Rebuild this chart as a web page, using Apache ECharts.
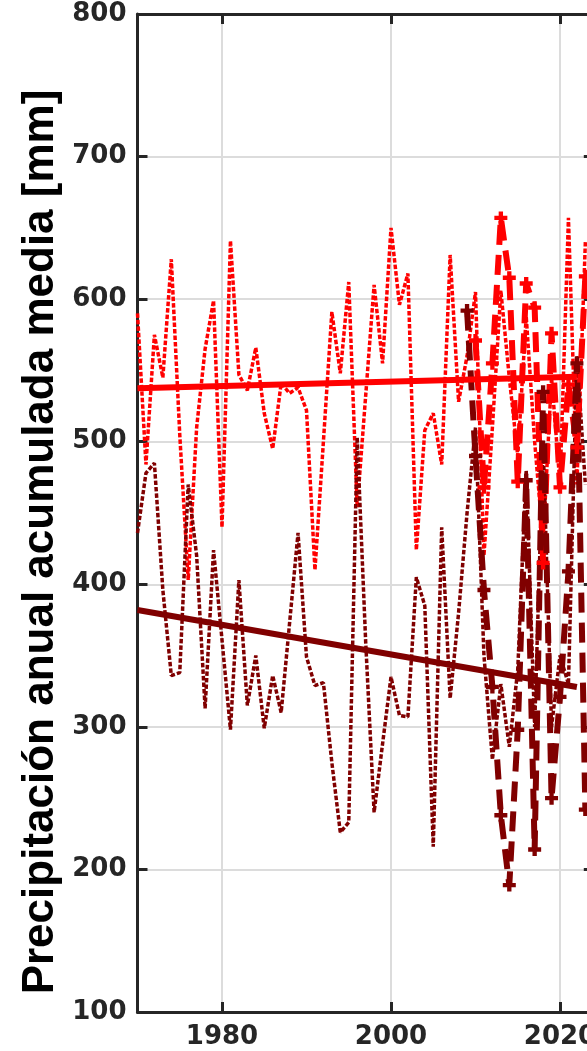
<!DOCTYPE html>
<html><head><meta charset="utf-8">
<script src="https://cdn.jsdelivr.net/npm/echarts@6/dist/echarts.min.js"></script>
<style>
html,body{margin:0;padding:0;overflow:hidden;background:#fff;width:587px;height:1051px}
#c{width:620px;height:1051px}
</style></head>
<body><div id="c"></div>
<script>
// ---- data ----
const yearsObs = [1970,1971,1972,1973,1974,1975,1976,1977,1978,1979,
  1980,1981,1982,1983,1984,1985,1986,1987,1988,1989,
  1990,1991,1992,1993,1994,1995,1996,1997,1998,1999,
  2000,2001,2002,2003,2004,2005,2006,2007,2008,2009,
  2010,2011,2012,2013,2014,2015,2016,2017,2018,2019,
  2020,2021,2022,2023];
const redObs = [590,484,575,545,628,505,403,510,565,599,
  440,641,547,536,566,520,495,541,534,538,
  522,410,500,591,548,612,454,532,610,555,
  650,596,618,424,508,520,484,631,528,560,
  605,420,510,606,545,490,588,500,430,545,
  470,657,470,640];
const maroonObs = [436,478,485,396,336,338,470,420,313,424,
  361,298,403,315,350,299,336,310,373,436,
  349,329,331,275,226,233,503,360,240,288,
  335,308,307,405,385,216,440,320,380,450,
  510,350,277,330,286,340,480,300,500,300,
  350,330,560,470];
const yearsModel = [2009,2010,2011,2012,2013,2014,2015,2016,2017,2018,2019,2020,2021,2022,2023];
const redModel = [null,571,468,555,657,615,472,611,594,415,576,468,540,496,616];
const maroonModel = [592,490,396,328,238,189,298,473,214,535,250,321,409,555,242];
const trendYears = [1970,2022];
const redTrend = [537.5,545.5];
const maroonTrend = [382,328];
const xTickYears = [1980,2000,2020];
const yTitle = 'Precipitación anual acumulada media [mm]';

// ---- chart ----
const pairs = (xs, ys) => xs.map((x, i) => [x, ys[i]]);
const RED = '#ff0000', MAROON = '#800000', AX = '#262626';
const plus = 'path://M4,0H8V4H12V8H8V12H4V8H0V4H4Z';
const labelFont = {fontFamily:'DejaVu Sans', fontWeight:'bold', fontSize:26, color:AX};

const chart = echarts.init(document.getElementById('c'), null, {renderer:'canvas'});
chart.setOption({
  animation:false,
  backgroundColor:'#fff',
  grid:{left:137.5, right:620-593.8, top:14, bottom:1051-1012, containLabel:false},
  xAxis:[{
    type:'value', min:1970, max:2024, interval:10, position:'bottom',
    axisLine:{show:true, onZero:false, lineStyle:{color:AX, width:3}},
    axisTick:{show:true, inside:true, length:10, lineStyle:{color:AX, width:3}, customValues:xTickYears},
    axisLabel:Object.assign({customValues:xTickYears, margin:12, formatter:v => String(v)}, labelFont),
    splitLine:{show:true, lineStyle:{color:'#dcdcdc', width:2}}
  },{
    type:'value', min:1970, max:2024, interval:10, position:'top',
    axisLine:{show:true, onZero:false, lineStyle:{color:AX, width:3}},
    axisTick:{show:true, inside:true, length:10, lineStyle:{color:AX, width:3}, customValues:xTickYears},
    axisLabel:{show:false}, splitLine:{show:false}
  }],
  yAxis:[{
    type:'value', min:100, max:800, interval:100, position:'left',
    axisLine:{show:true, onZero:false, lineStyle:{color:AX, width:3}},
    axisTick:{show:true, inside:true, length:10, lineStyle:{color:AX, width:3}},
    axisLabel:Object.assign({margin:11, formatter:v => String(v)}, labelFont),
    splitLine:{show:true, lineStyle:{color:'#dcdcdc', width:2}}
  },{
    type:'value', min:100, max:800, interval:100, position:'right',
    axisLine:{show:true, onZero:false, lineStyle:{color:AX, width:3}},
    axisTick:{show:true, inside:true, length:10, lineStyle:{color:AX, width:3}},
    axisLabel:{show:false}, splitLine:{show:false}
  }],
  graphic:[{
    type:'text', x:41, y:542, rotation:Math.PI/2,
    style:{text:yTitle, font:'bold 44px "Liberation Sans", Arial, sans-serif', fill:'#000', align:'center', verticalAlign:'middle'}
  }],
  series:[
    {type:'line', data:pairs(yearsObs, redObs), symbol:'none', z:3,
      lineStyle:{color:RED, width:3.5, type:[4.5,2]}},
    {type:'line', data:pairs(yearsObs, maroonObs), symbol:'none', z:3,
      lineStyle:{color:MAROON, width:3.5, type:[4.5,2]}},
    {type:'line', data:pairs(yearsModel, redModel), symbol:plus, symbolSize:13, z:4, connectNulls:false,
      itemStyle:{color:RED}, lineStyle:{color:RED, width:6, type:[20,10]}},
    {type:'line', data:pairs(yearsModel, maroonModel), symbol:plus, symbolSize:13, z:4,
      itemStyle:{color:MAROON}, lineStyle:{color:MAROON, width:6, type:[20,10]}},
    {type:'line', data:pairs(trendYears, redTrend), symbol:'none', z:5,
      lineStyle:{color:RED, width:6}},
    {type:'line', data:pairs(trendYears, maroonTrend), symbol:'none', z:5,
      lineStyle:{color:MAROON, width:6}}
  ]
});
</script>
</body></html>
